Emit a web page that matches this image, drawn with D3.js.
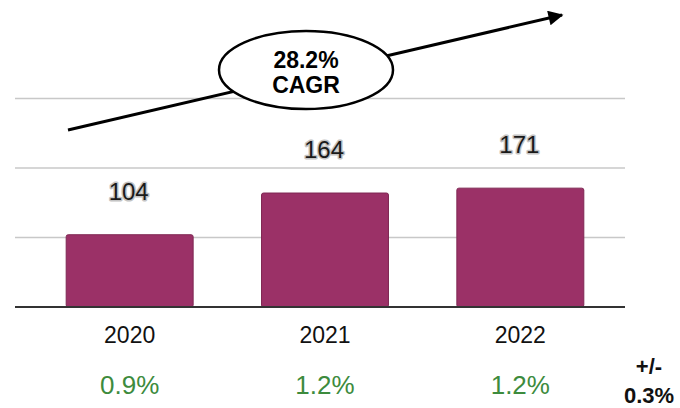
<!DOCTYPE html>
<html>
<head>
<meta charset="utf-8">
<script src="https://cdn.jsdelivr.net/npm/d3@7"></script>
<style>
  body { margin: 0; background: #fff; }
  svg { display: block; font-family: "Liberation Sans", Arial, sans-serif; }
</style>
</head>
<body>
<svg id="chart" width="680" height="408"></svg>
<script>
// chart data
const years = ["2020", "2021", "2022"];
const values = [104, 164, 171];
const shares = ["0.9%", "1.2%", "1.2%"];
const gridTicks = [100, 200, 300];
const cagrLines = ["28.2%", "CAGR"];
const marginLines = ["+/-", "0.3%"];

const svg = d3.select("#chart");

const x = d3.scaleBand()
    .domain(years)
    .range([32, 618])
    .paddingInner(0.35)
    .paddingOuter(0.175);

const y = d3.scaleLinear()
    .domain([0, 300])
    .range([307, 98.5]);

// gridlines
svg.append("g")
    .selectAll("line")
    .data(gridTicks)
    .join("line")
    .attr("x1", 15)
    .attr("x2", 625)
    .attr("y1", d => y(d))
    .attr("y2", d => y(d))
    .attr("stroke", "#c8c8c8")
    .attr("stroke-width", 1.5);

// bars
svg.append("g")
    .selectAll("rect")
    .data(values)
    .join("rect")
    .attr("x", (d, i) => x(years[i]))
    .attr("y", d => y(d))
    .attr("width", x.bandwidth())
    .attr("height", d => y(0) - y(d))
    .attr("rx", 2)
    .attr("fill", "#9b3167")
    .attr("stroke", "#7f2753")
    .attr("stroke-width", 1);

// baseline
svg.append("line")
    .attr("x1", 15)
    .attr("x2", 625)
    .attr("y1", y(0))
    .attr("y2", y(0))
    .attr("stroke", "#333")
    .attr("stroke-width", 2);

// value labels with halo
svg.append("g")
    .selectAll("text")
    .data(values)
    .join("text")
    .attr("x", (d, i) => x(years[i]) + x.bandwidth() / 2 - 1)
    .attr("y", d => y(d) - 35)
    .attr("text-anchor", "middle")
    .attr("font-size", 24)
    .attr("fill", "#1a1a1a")
    .attr("stroke", "#c4c4c4")
    .attr("stroke-width", 3)
    .attr("paint-order", "stroke")
    .attr("stroke-linejoin", "round")
    .text(d => d);

// year labels
svg.append("g")
    .selectAll("text")
    .data(years)
    .join("text")
    .attr("x", d => x(d) + x.bandwidth() / 2)
    .attr("y", 343)
    .attr("text-anchor", "middle")
    .attr("font-size", 23)
    .attr("fill", "#111")
    .text(d => d);

// share labels
svg.append("g")
    .selectAll("text")
    .data(shares)
    .join("text")
    .attr("x", (d, i) => x(years[i]) + x.bandwidth() / 2)
    .attr("y", 394)
    .attr("text-anchor", "middle")
    .attr("font-size", 26)
    .attr("fill", "#3d8b3d")
    .text(d => d);

svg.append("g")
    .selectAll("text")
    .data(marginLines)
    .join("text")
    .attr("x", 649)
    .attr("y", (d, i) => 374 + i * 29)
    .attr("text-anchor", "middle")
    .attr("font-size", 22)
    .attr("font-weight", "bold")
    .attr("fill", "#111")
    .text(d => d);

// CAGR arrow
svg.append("defs").append("marker")
    .attr("id", "head")
    .attr("viewBox", "0 0 10 10")
    .attr("refX", 9)
    .attr("refY", 5)
    .attr("markerWidth", 6)
    .attr("markerHeight", 5)
    .attr("markerUnits", "strokeWidth")
    .attr("orient", "auto")
    .append("path")
    .attr("d", "M0,0 L10,5 L0,10 Z")
    .attr("fill", "#000");

svg.append("line")
    .attr("x1", 68)
    .attr("y1", 130)
    .attr("x2", 562)
    .attr("y2", 15)
    .attr("stroke", "#000")
    .attr("stroke-width", 3)
    .attr("marker-end", "url(#head)");

svg.append("ellipse")
    .attr("cx", 306)
    .attr("cy", 70)
    .attr("rx", 87)
    .attr("ry", 39)
    .attr("fill", "#fff")
    .attr("stroke", "#000")
    .attr("stroke-width", 2.5);

svg.append("g")
    .selectAll("text")
    .data(cagrLines)
    .join("text")
    .attr("x", 306)
    .attr("y", (d, i) => 68 + i * 25)
    .attr("text-anchor", "middle")
    .attr("font-size", 23)
    .attr("font-weight", "bold")
    .attr("fill", "#000")
    .text(d => d);
</script>
</body>
</html>
